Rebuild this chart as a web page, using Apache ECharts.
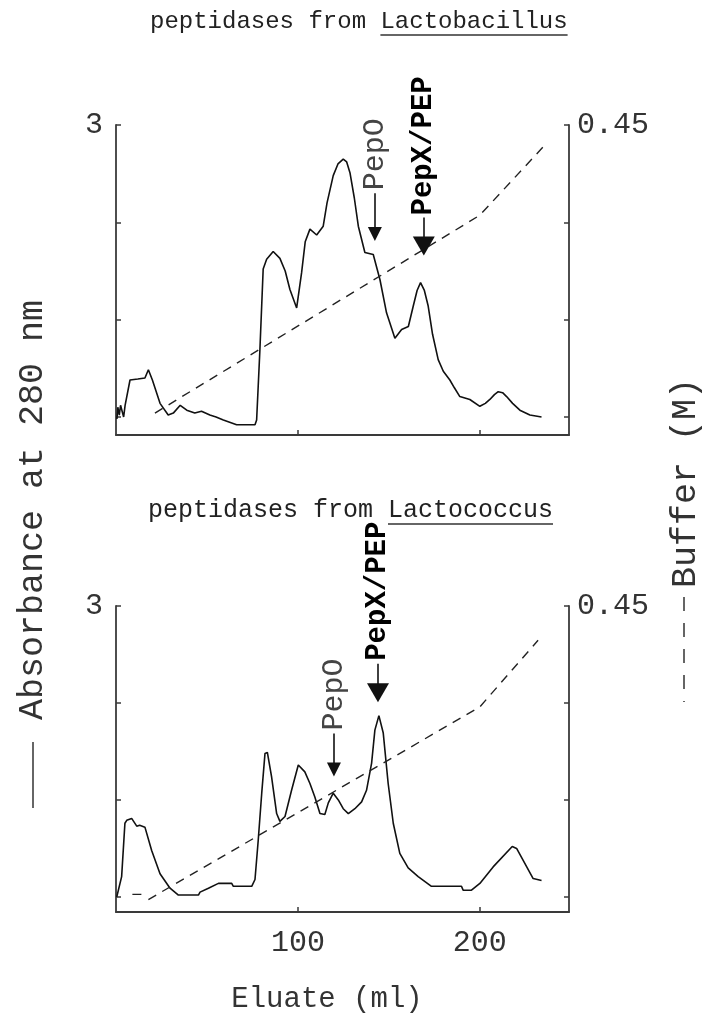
<!DOCTYPE html>
<html>
<head>
<meta charset="utf-8">
<script src="https://cdn.jsdelivr.net/npm/echarts@6/dist/echarts.min.js"></script>
<style>html,body{margin:0;padding:0;background:#fff;}#chart{width:702px;height:1015px;}</style>
</head>
<body>
<div id="chart"></div>
<script>
// ---------- DATA ----------
const topEluate = [0.5,1,1.8,2.5,3.5,4.2,5,7.7,12,15.9,17.8,20,24.2,28.7,31.5,35.3,38.9,43.3,47,51.6,55,59,66.3,72,76.4,77.3,79.1,80.9,82.8,86.4,90.1,93,95.6,99.3,102,104,106.6,110.3,113.9,116,119.4,122,124.9,126.8,128.6,131,133.2,136.8,141.4,145.1,148.7,153.3,157,160.7,163.4,165.5,167.4,169.5,171.6,174,177.1,179.9,183.5,186,189,194.5,200,203,205.5,208,210.1,212.5,214.7,218,222,227.5,233.9];
const topAbsorbance = [-0.02,0.1,0.02,0.12,0.12,0.0,0.12,0.38,0.39,0.40,0.485,0.38,0.14,0.02,0.04,0.12,0.07,0.04,0.06,0.02,0.0,-0.03,-0.08,-0.08,-0.08,-0.03,0.69,1.52,1.62,1.70,1.63,1.50,1.31,1.12,1.48,1.80,1.93,1.87,1.96,2.2,2.48,2.60,2.65,2.62,2.51,2.25,1.96,1.69,1.67,1.41,1.07,0.81,0.90,0.93,1.14,1.30,1.38,1.30,1.14,0.85,0.59,0.47,0.38,0.30,0.21,0.18,0.11,0.14,0.18,0.23,0.26,0.25,0.21,0.14,0.07,0.02,0.00];
const topBufferEluate = [21.4,200,235.7];
const topBuffer = [0.006,0.311,0.419];

const botEluate = [0.4,3.1,4.9,5.9,8.6,11.4,13,15.9,19.6,24.2,29.7,34.3,45.3,46.2,50.8,56.3,63.6,64.5,74.6,76.4,78.2,80.1,81.9,83.2,85.5,88.3,90.1,92.9,96.5,100.2,103.8,106.6,109.3,112.1,114.8,116.7,119.4,122.2,124.9,127.7,131.3,135,137.7,140.5,142.3,144.5,146.9,149.6,152.4,156,160.6,166.1,173.4,189.9,190.8,195.4,200,207.3,217.8,220.2,229.3,233.9];
const botAbsorbance = [0,0.21,0.76,0.79,0.81,0.73,0.74,0.72,0.48,0.24,0.09,0.02,0.02,0.05,0.09,0.14,0.14,0.11,0.11,0.18,0.59,1.07,1.48,1.49,1.24,0.86,0.78,0.83,1.10,1.36,1.29,1.17,1.03,0.86,0.85,0.97,1.07,1.00,0.91,0.86,0.91,0.98,1.10,1.38,1.72,1.87,1.69,1.17,0.76,0.45,0.30,0.21,0.11,0.11,0.07,0.07,0.14,0.31,0.52,0.50,0.19,0.17];
const botBufferEluate = [17.8,200,232];
const botBuffer = [-0.004,0.294,0.397];
const botBufferStubEluate = [9,16];
const botBufferStub = [0.004,0.004];

const titles = ['peptidases from ', 'Lactobacillus', 'Lactococcus'];
const leftTicks = [0,1,2,3];
const leftLabels = [3];
const rightTicks = [0,0.15,0.3,0.45];
const rightLabels = [0.45];
const xTicks = [100,200];
// arrows: [eluate, shaftTop, headCenter, textStart]
const topArrows = [
  {name:'PepO', x:142.3, y1:2.30, y2:1.88, t:2.33, bold:false},
  {name:'PepX/PEP', x:169.2, y1:2.05, y2:1.757, t:2.07, bold:true}
];
const botArrows = [
  {name:'PepO', x:119.8, y1:1.685, y2:1.315, t:1.716, bold:false},
  {name:'PepX/PEP', x:144.0, y1:2.404, y2:2.106, t:2.435, bold:true}
];

// ---------- CHART ----------
const FONT = '"Liberation Mono", "DejaVu Sans Mono", monospace';
const zip = (a,b) => a.map((v,i)=>[v,b[i]]);
const chart = echarts.init(document.getElementById('chart'), null, {renderer:'canvas'});
const axisCol = '#3a3a3a';

function xAx(gi, labels){
  return {type:'value', gridIndex:gi, min:0, max:249,
    axisLine:{show:true, onZero:false, lineStyle:{color:axisCol, width:1.8}},
    axisTick:{show:true, inside:true, length:5, customValues:xTicks, lineStyle:{color:axisCol, width:1.5}},
    axisLabel:{show:labels, customValues:xTicks, fontFamily:FONT, fontSize:30, color:'#333', margin:16},
    splitLine:{show:false}};
}
function yL(gi, min){
  return {type:'value', gridIndex:gi, min:min, max:3, position:'left',
    axisLine:{show:true, onZero:false, lineStyle:{color:axisCol, width:1.8}},
    axisTick:{show:true, inside:true, length:5, customValues:leftTicks, lineStyle:{color:axisCol, width:1.5}},
    axisLabel:{show:true, customValues:leftLabels, fontFamily:FONT, fontSize:30, color:'#333', margin:13},
    splitLine:{show:false}};
}
function yR(gi, min){
  return {type:'value', gridIndex:gi, min:min, max:0.45, position:'right',
    axisLine:{show:true, onZero:false, lineStyle:{color:axisCol, width:1.8}},
    axisTick:{show:true, inside:true, length:5, customValues:rightTicks, lineStyle:{color:axisCol, width:1.5}},
    axisLabel:{show:true, customValues:rightLabels, formatter:v=>v.toFixed(2), fontFamily:FONT, fontSize:30, color:'#333', margin:8},
    splitLine:{show:false}};
}
function markers(arrows){
  return {
    markLine:{silent:true, animation:false, symbol:['none','triangle'],
      label:{show:false}, lineStyle:{color:'#111', width:1.6, type:'solid'},
      emphasis:{disabled:true},
      data: arrows.map(a=>[
        {coord:[a.x,a.y1], symbol:'none'},
        {coord:[a.x,a.y2], symbol:'triangle', symbolSize: a.bold?[22,19]:[14,14]}
      ])},
    markPoint:{silent:true, animation:false, symbol:'circle', symbolSize:1,
      itemStyle:{color:'rgba(0,0,0,0)'},
      data: arrows.map(a=>({name:a.name, coord:[a.x,a.t],
        label:{show:true, formatter:'{b}', position:'inside', rotate:90, align:'left', verticalAlign:'middle',
          fontFamily:FONT, fontSize:a.bold?29:30, fontWeight:a.bold?'bold':'normal', color:a.bold?'#000':'#444'}}))}
  };
}
const absStyle = {color:'#111', width:1.6};
const bufStyle = {color:'#222', width:1.4, type:[9,7]};

const tLeft1 = 150, fs1 = 24, tLeft2 = 148, fs2 = 25;
const option = {
  animation:false,
  grid:[
    {left:116, width:453, top:125, height:310},
    {left:116, width:453, top:606, height:306}
  ],
  xAxis:[xAx(0,false), xAx(1,true)],
  yAxis:[yL(0,-0.185), yR(0,-0.02775), yL(1,-0.155), yR(1,-0.02325)],
  series:[
    Object.assign({type:'line', xAxisIndex:0, yAxisIndex:0, data:zip(topEluate,topAbsorbance), symbol:'none', lineStyle:absStyle, z:3}, markers(topArrows)),
    {type:'line', xAxisIndex:0, yAxisIndex:1, data:zip(topBufferEluate,topBuffer), symbol:'none', lineStyle:bufStyle},
    Object.assign({type:'line', xAxisIndex:1, yAxisIndex:2, data:zip(botEluate,botAbsorbance), symbol:'none', lineStyle:absStyle, z:3}, markers(botArrows)),
    {type:'line', xAxisIndex:1, yAxisIndex:3, data:zip(botBufferEluate,botBuffer), symbol:'none', lineStyle:bufStyle},
    {type:'line', xAxisIndex:1, yAxisIndex:3, data:zip(botBufferStubEluate,botBufferStub), symbol:'none', lineStyle:bufStyle}
  ],
  graphic:[
    {type:'text', x:tLeft1, y:22, style:{text:titles[0]+titles[1], font:fs1+'px '+FONT, fill:'#222', verticalAlign:'middle'}},
    {type:'line', shape:{x1:tLeft1+16*fs1*0.6, y1:35, x2:tLeft1+29*fs1*0.6, y2:35}, style:{stroke:'#333', lineWidth:1.5}},
    {type:'text', x:tLeft2, y:510, style:{text:titles[0]+titles[2], font:fs2+'px '+FONT, fill:'#222', verticalAlign:'middle'}},
    {type:'line', shape:{x1:tLeft2+16*fs2*0.6, y1:524, x2:tLeft2+27*fs2*0.6, y2:524}, style:{stroke:'#333', lineWidth:1.5}},
    {type:'text', x:33, y:510, rotation:Math.PI/2, style:{text:'Absorbance at 280 nm', font:'35px '+FONT, fill:'#333', align:'center', verticalAlign:'middle'}},
    {type:'line', shape:{x1:33, y1:742, x2:33, y2:808}, style:{stroke:'#333', lineWidth:1.5}},
    {type:'text', x:686, y:483, rotation:Math.PI/2, style:{text:'Buffer (M)', font:'35px '+FONT, fill:'#333', align:'center', verticalAlign:'middle'}},
    {type:'line', shape:{x1:684, y1:597, x2:684, y2:702}, style:{stroke:'#333', lineWidth:1.5, lineDash:[14,12]}},
    {type:'text', x:327, y:999, style:{text:'Eluate (ml)', font:'29px '+FONT, fill:'#333', align:'center', verticalAlign:'middle'}}
  ]
};
chart.setOption(option);
</script>
</body>
</html>
